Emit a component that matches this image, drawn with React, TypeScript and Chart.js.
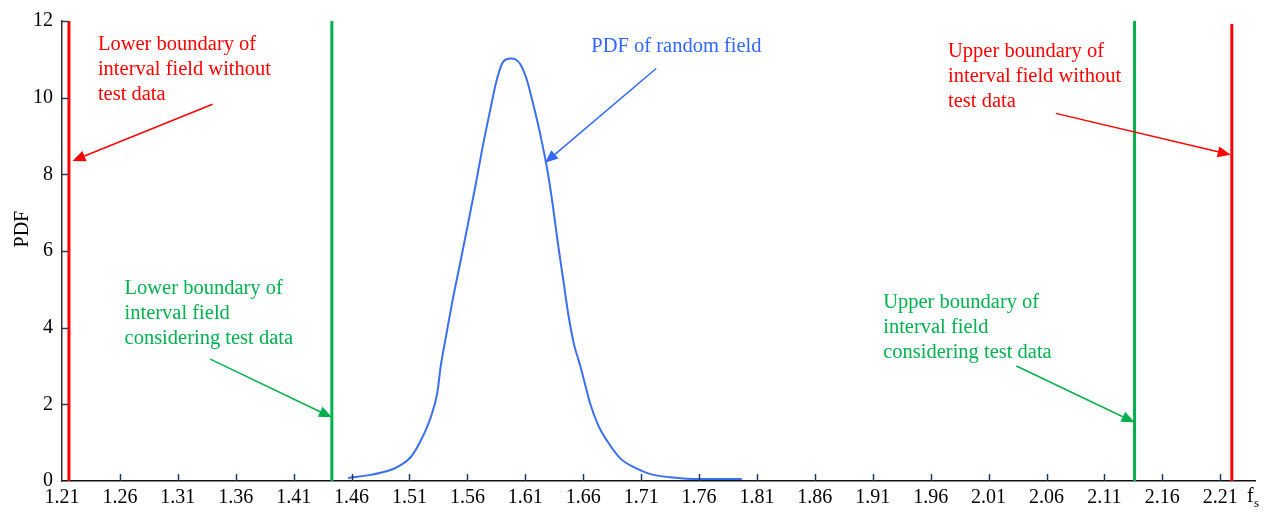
import React, { useEffect, useRef } from "react";
import { Chart, registerables } from "chart.js";

Chart.register(...registerables);

// ---- data ----
const X_TICKS = [1.21, 1.26, 1.31, 1.36, 1.41, 1.46, 1.51, 1.56, 1.61, 1.66, 1.71, 1.76, 1.81, 1.86, 1.91, 1.96, 2.01, 2.06, 2.11, 2.16, 2.21];
const X_MIN = 1.21;
const X_MAX = 2.24;
const Y_MIN = 0;
const Y_MAX = 12;

const CURVE_X = [1.457, 1.476, 1.493, 1.502, 1.511, 1.519, 1.528, 1.534, 1.537, 1.542, 1.547, 1.554, 1.561, 1.567, 1.573, 1.58, 1.585, 1.59, 1.593, 1.598, 1.602, 1.606, 1.611, 1.616, 1.623, 1.629, 1.634, 1.638, 1.643, 1.647, 1.652, 1.657, 1.662, 1.666, 1.673, 1.681, 1.692, 1.705, 1.718, 1.735, 1.761, 1.797];
const CURVE_PDF = [0.08, 0.16, 0.28, 0.41, 0.62, 1.01, 1.63, 2.3, 3.0, 3.85, 4.68, 5.72, 6.78, 7.71, 8.69, 9.72, 10.42, 10.89, 10.99, 11.02, 10.99, 10.86, 10.5, 9.93, 9.03, 8.12, 7.14, 6.23, 5.2, 4.37, 3.57, 3.05, 2.48, 2.02, 1.45, 1.03, 0.59, 0.34, 0.18, 0.1, 0.05, 0.05];

const BOUND_X = [1.216, 1.443, 2.136, 2.22];
const BOUND_TOP = [12, 12, 12, 11.92];
const BOUND_COLORS = ["#ff0000", "#00b050", "#00b050", "#ff0000"];

const NOTE_TEXT = [
  ["Lower boundary of", "interval field without", "test data"],
  ["PDF of random field"],
  ["Upper boundary of", "interval field without", "test data"],
  ["Lower boundary of", "interval field", "considering test data"],
  ["Upper boundary of", "interval field", "considering test data"],
];
const NOTE_X = [1.241, 1.667, 1.975, 1.264, 1.919];
const NOTE_Y = [11.38, 11.33, 11.2, 5.02, 4.65];
const NOTE_COLORS = ["#ff0000", "#3366ff", "#ff0000", "#00b050", "#00b050"];

const ARROW_FROM_X = [1.34, 1.723, 2.068, 1.338, 2.034];
const ARROW_FROM_Y = [9.83, 10.76, 9.59, 3.18, 3.0];
const ARROW_TO_X = [1.219, 1.627, 2.219, 1.443, 2.136];
const ARROW_TO_Y = [8.35, 8.3, 8.51, 1.66, 1.53];

const FONT = '"Liberation Serif", "Times New Roman", serif';

const overlay = {
  id: "overlay",
  afterDraw(chart: any) {
    const ctx = chart.ctx;
    const xs = chart.scales.x;
    const ys = chart.scales.y;
    const area = chart.chartArea;
    ctx.save();
    // inner tick marks
    ctx.strokeStyle = "#1f3864";
    ctx.lineWidth = 1.5;
    X_TICKS.forEach((v, i) => {
      if (i === 0) return;
      const px = Math.round(xs.getPixelForValue(v)) + 0.5;
      ctx.beginPath();
      ctx.moveTo(px, area.bottom);
      ctx.lineTo(px, area.bottom - 7);
      ctx.stroke();
    });
    for (let v = 2; v <= Y_MAX; v += 2) {
      const py = Math.round(ys.getPixelForValue(v)) + 0.5;
      ctx.beginPath();
      ctx.moveTo(area.left, py);
      ctx.lineTo(area.left + 6, py);
      ctx.stroke();
    }
    // notes
    ctx.textBaseline = "middle";
    ctx.textAlign = "left";
    ctx.font = `20.5px ${FONT}`;
    NOTE_TEXT.forEach((lines, i) => {
      ctx.fillStyle = NOTE_COLORS[i];
      const x0 = xs.getPixelForValue(NOTE_X[i]);
      const y0 = ys.getPixelForValue(NOTE_Y[i]);
      lines.forEach((t, j) => ctx.fillText(t, x0, y0 + j * 25));
    });
    // arrows
    ARROW_FROM_X.forEach((_, i) => {
      const x1 = xs.getPixelForValue(ARROW_FROM_X[i]);
      const y1 = ys.getPixelForValue(ARROW_FROM_Y[i]);
      const x2 = xs.getPixelForValue(ARROW_TO_X[i]);
      const y2 = ys.getPixelForValue(ARROW_TO_Y[i]);
      const ang = Math.atan2(y2 - y1, x2 - x1);
      const hl = 13;
      const hw = 5.5;
      const bx = x2 - hl * Math.cos(ang);
      const by = y2 - hl * Math.sin(ang);
      ctx.strokeStyle = NOTE_COLORS[i];
      ctx.fillStyle = NOTE_COLORS[i];
      ctx.lineWidth = 1.5;
      ctx.beginPath();
      ctx.moveTo(x1, y1);
      ctx.lineTo(bx, by);
      ctx.stroke();
      ctx.beginPath();
      ctx.moveTo(x2, y2);
      ctx.lineTo(bx + hw * Math.sin(ang), by - hw * Math.cos(ang));
      ctx.lineTo(bx - hw * Math.sin(ang), by + hw * Math.cos(ang));
      ctx.closePath();
      ctx.fill();
    });
    // axis titles
    ctx.fillStyle = "#000";
    ctx.font = `20px ${FONT}`;
    ctx.save();
    ctx.translate(area.left - 39, ys.getPixelForValue(6.57));
    ctx.rotate(-Math.PI / 2);
    ctx.textAlign = "center";
    ctx.fillText("PDF", 0, 0);
    ctx.restore();
    ctx.textAlign = "left";
    ctx.fillText("f", area.right - 8, area.bottom + 16);
    ctx.font = `13px ${FONT}`;
    ctx.fillText("s", area.right - 1, area.bottom + 23);
    ctx.restore();
  },
};

export default function App() {
  const ref = useRef<HTMLCanvasElement | null>(null);
  useEffect(() => {
    if (!ref.current) return;
    const datasets: any[] = [
      {
        data: CURVE_X.map((x, i) => ({ x, y: CURVE_PDF[i] })),
        borderColor: "#3a6ff0",
        borderWidth: 2,
        pointRadius: 0,
        cubicInterpolationMode: "monotone",
        fill: false,
      },
      ...BOUND_X.map((x, i) => ({
        data: [
          { x, y: Y_MIN },
          { x, y: BOUND_TOP[i] },
        ],
        borderColor: BOUND_COLORS[i],
        borderWidth: 3,
        pointRadius: 0,
        fill: false,
      })),
    ];
    const chart = new Chart(ref.current, {
      type: "line",
      data: { datasets },
      plugins: [overlay],
      options: {
        animation: false,
        responsive: false,
        layout: { padding: { left: 0, right: 15, top: 17, bottom: 0 } },
        plugins: { legend: { display: false }, tooltip: { enabled: false } },
        scales: {
          x: {
            type: "linear",
            min: X_MIN,
            max: X_MAX,
            afterBuildTicks: (s: any) => {
              s.ticks = X_TICKS.map((value) => ({ value }));
            },
            afterFit: (s: any) => {
              s.height = 32;
            },
            grid: { drawOnChartArea: false, drawTicks: false },
            border: { display: true, color: "#111", width: 1.5 },
            ticks: {
              autoSkip: false,
              maxRotation: 0,
              padding: 5,
              color: "#000",
              font: { family: FONT, size: 20 },
              callback: (v: any) => Number(v).toFixed(2),
            },
          },
          y: {
            type: "linear",
            min: Y_MIN,
            max: Y_MAX,
            afterFit: (s: any) => {
              s.width = 62;
            },
            grid: { drawOnChartArea: false, drawTicks: false },
            border: { display: true, color: "#333", width: 1.5 },
            ticks: {
              stepSize: 2,
              padding: 9,
              color: "#000",
              font: { family: FONT, size: 20 },
            },
          },
        },
      },
    });
    return () => chart.destroy();
  }, []);
  return (
    <div style={{ position: "absolute", left: 0, top: 0, width: 1270, height: 513, background: "#fff" }}>
      <canvas ref={ref} width={1270} height={513} />
    </div>
  );
}
